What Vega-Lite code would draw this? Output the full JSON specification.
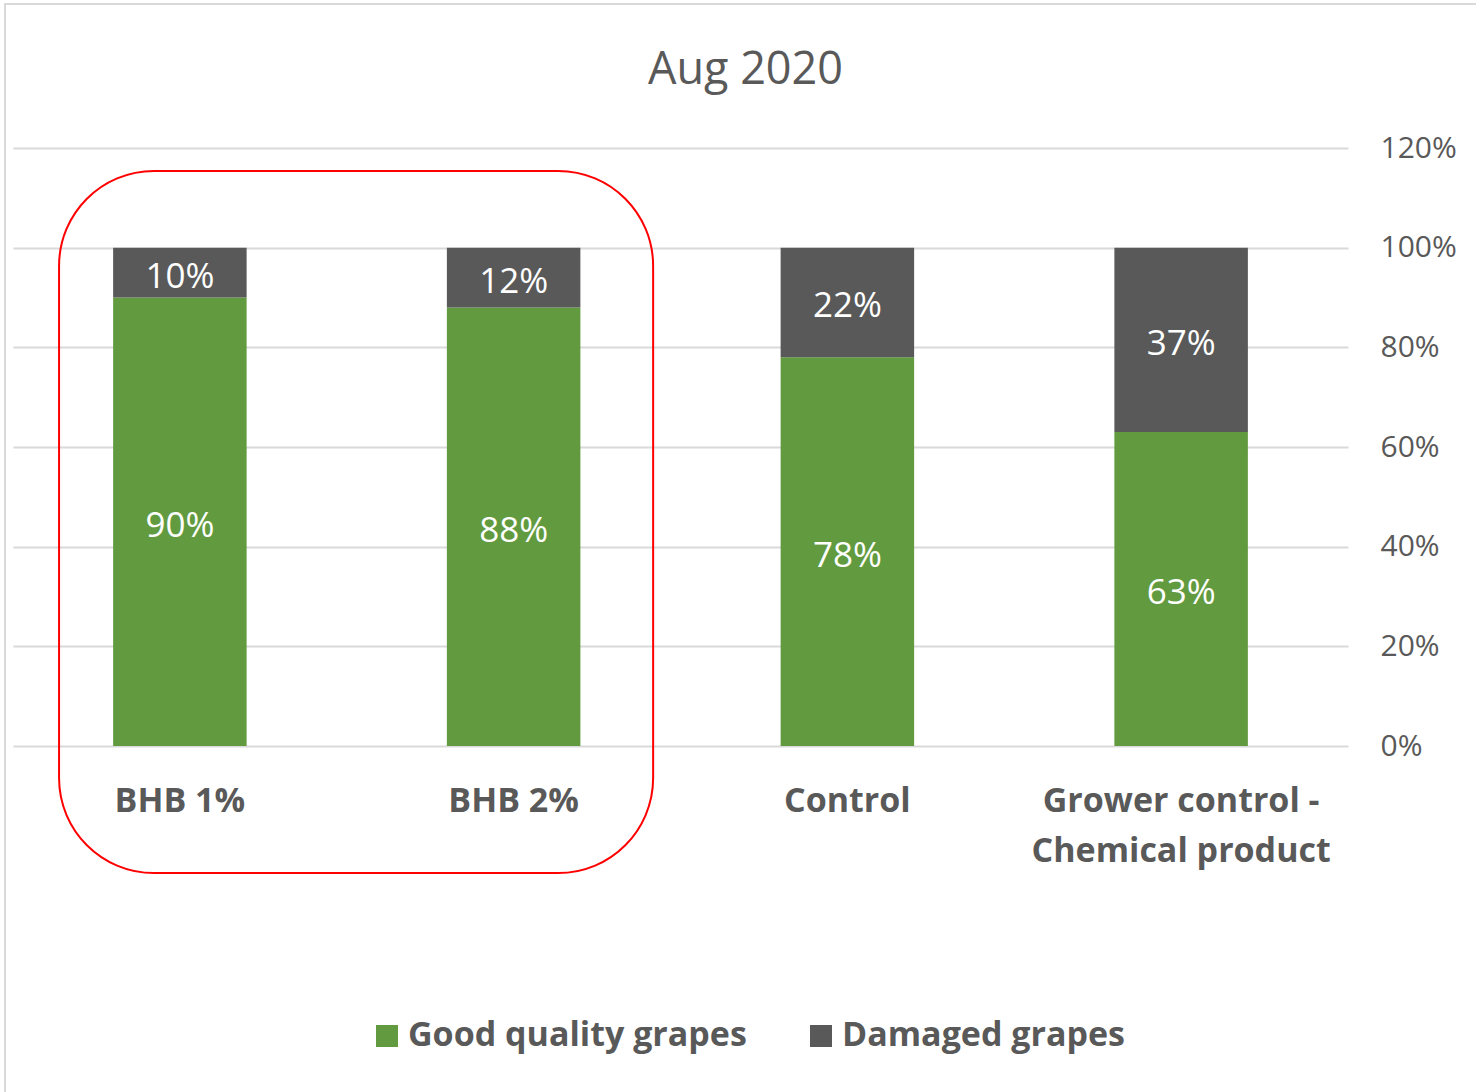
{
  "$schema": "https://vega.github.io/schema/vega-lite/v6.json",
  "autosize": {"type": "none"},
  "padding": {"left": 13, "top": 148, "right": 128, "bottom": 346},
  "width": 1335,
  "height": 598,
  "background": "white",
  "title": {
    "text": "Aug 2020",
    "font": "Open Sans",
    "fontSize": 45,
    "fontWeight": "normal",
    "color": "#595959",
    "anchor": "middle",
    "dx": 65,
    "offset": -90
  },
  "config": {
    "view": {"stroke": null}
  },
  "datasets": {
    "grapes": [
      {"treatment": "BHB 1%", "category": "Good quality grapes", "value": 0.90},
      {"treatment": "BHB 1%", "category": "Damaged grapes", "value": 0.10},
      {"treatment": "BHB 2%", "category": "Good quality grapes", "value": 0.88},
      {"treatment": "BHB 2%", "category": "Damaged grapes", "value": 0.12},
      {"treatment": "Control", "category": "Good quality grapes", "value": 0.78},
      {"treatment": "Control", "category": "Damaged grapes", "value": 0.22},
      {"treatment": "Grower control - Chemical product", "category": "Good quality grapes", "value": 0.63},
      {"treatment": "Grower control - Chemical product", "category": "Damaged grapes", "value": 0.37}
    ]
  },
  "resolve": {"scale": {"x": "independent"}, "axis": {"x": "independent"}},
  "layer": [
    {
      "data": {"name": "grapes"},
      "mark": {"type": "bar"},
      "encoding": {
        "x": {
          "field": "treatment",
          "type": "nominal",
          "sort": null,
          "scale": {"paddingInner": 0.6, "paddingOuter": 0.3},
          "axis": {
            "title": null,
            "domain": false,
            "ticks": false,
            "labelAngle": 0,
            "labelFont": "Open Sans",
            "labelFontSize": 34,
            "labelFontWeight": "bold",
            "labelColor": "#595959",
            "labelPadding": 38,
            "labelLimit": 500,
            "labelLineHeight": 50,
            "labelExpr": "datum.value == 'Grower control - Chemical product' ? ['Grower control -', 'Chemical product'] : datum.label"
          }
        },
        "y": {
          "field": "value",
          "type": "quantitative",
          "stack": "zero",
          "scale": {"domain": [0, 1.2]},
          "axis": {
            "orient": "right",
            "title": null,
            "values": [0, 0.2, 0.4, 0.6, 0.8, 1.0, 1.2],
            "format": ".0%",
            "domain": false,
            "ticks": false,
            "grid": true,
            "gridColor": "#D9D9D9",
            "gridWidth": 2,
            "labelFont": "Open Sans",
            "labelFontSize": 30,
            "labelColor": "#595959",
            "labelPadding": 32
          }
        },
        "color": {
          "field": "category",
          "type": "nominal",
          "scale": {"domain": ["Good quality grapes", "Damaged grapes"], "range": ["#629B3F", "#595959"]},
          "legend": {
            "title": null,
            "orient": "none",
            "direction": "horizontal",
            "legendX": 357,
            "legendY": 871,
            "symbolType": "square",
            "symbolSize": 484,
            "symbolStrokeWidth": 0,
            "labelFont": "Open Sans",
            "labelFontSize": 34,
            "labelFontWeight": "bold",
            "labelColor": "#595959",
            "labelOffset": 4,
            "labelLimit": 500,
            "columnPadding": 57
          }
        },
        "order": {"field": "category", "sort": "descending"}
      }
    },
    {
      "data": {"name": "grapes"},
      "transform": [
        {"stack": "value", "groupby": ["treatment"], "sort": [{"field": "category", "order": "descending"}], "as": ["v0", "v1"]},
        {"calculate": "(datum.v0 + datum.v1) / 2", "as": "mid"}
      ],
      "mark": {"type": "text", "font": "Open Sans", "fontSize": 35, "color": "white", "baseline": "middle", "dy": 4},
      "encoding": {
        "x": {"field": "treatment", "type": "nominal", "sort": null, "scale": {"paddingInner": 0.6, "paddingOuter": 0.3}, "axis": null},
        "y": {"field": "mid", "type": "quantitative"},
        "text": {"field": "value", "type": "quantitative", "format": ".0%"}
      }
    },
    {
      "data": {"values": [{}]},
      "mark": {"type": "rect", "filled": false, "stroke": "#FF0000", "strokeWidth": 2, "cornerRadius": 95},
      "encoding": {
        "x": {"datum": 0.138, "type": "quantitative", "scale": {"domain": [0, 4]}, "axis": null},
        "x2": {"datum": 1.918},
        "y": {"datum": 1.154, "type": "quantitative"},
        "y2": {"datum": -0.255}
      }
    },
    {
      "data": {"values": [{}]},
      "mark": {"type": "rect", "filled": false, "stroke": "#D9D9D9", "strokeWidth": 2},
      "encoding": {
        "x": {"datum": -0.024, "type": "quantitative", "scale": {"domain": [0, 4]}, "axis": null},
        "x2": {"datum": 4.6},
        "y": {"datum": 1.489, "type": "quantitative"},
        "y2": {"datum": -0.9}
      }
    }
  ]
}
